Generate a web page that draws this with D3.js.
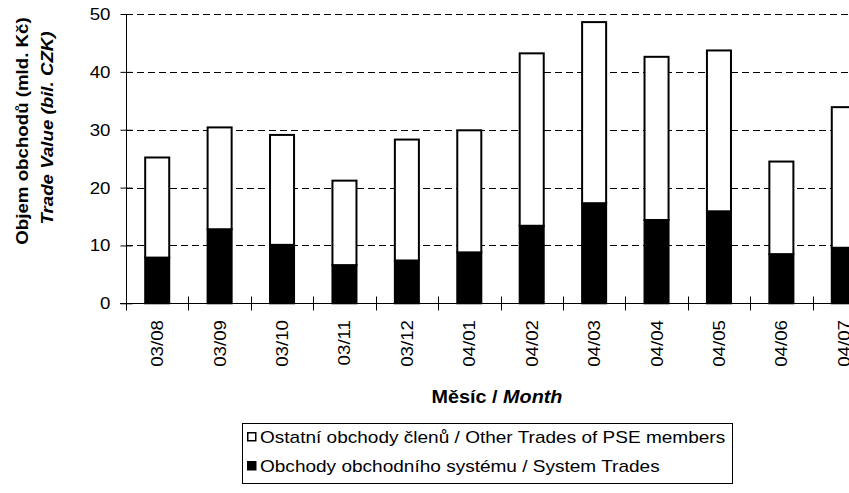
<!DOCTYPE html>
<html>
<head>
<meta charset="utf-8">
<script src="https://cdn.jsdelivr.net/npm/d3@7"></script>
<style>
  body { margin: 0; background: #fff; }
  svg { display: block; overflow: hidden; }
  text { font-family: "Liberation Sans", Arial, sans-serif; fill: #000; }
</style>
</head>
<body>
<svg id="chart-id"></svg>
<script>

const width = 849;
const height = 493;

// data (mld. Kc)
const months = ["03/08", "03/09", "03/10", "03/11", "03/12", "04/01",
                "04/02", "04/03", "04/04", "04/05", "04/06", "04/07"];
const systemTrades = [7.9, 12.8, 10.1, 6.6, 7.4, 8.8, 13.4, 17.3, 14.4, 15.9, 8.5, 9.6];
const otherTrades = [17.3, 17.6, 19.0, 14.6, 20.9, 21.1, 29.8, 31.3, 28.2, 27.8, 16.0, 24.3];
const yTicks = [0, 10, 20, 30, 40, 50];
const legendLabels = ["Ostatní obchody členů / Other Trades of PSE members",
                      "Obchody obchodního systému / System Trades"];

// plot area runs past the right edge of the window, like the original
const margin = {top: 14, left: 126};
const plotW = 749;
const plotH = 289.3;
const stretch = 1.1;

let svg = d3.select("#chart-id")
            .attr("width", width)
            .attr("height", height);

let x = d3.scaleBand()
          .domain(months)
          .range([margin.left, margin.left + plotW])
          .paddingInner(0.615)
          .paddingOuter(0.3075);

let y = d3.scaleLinear()
          .domain([0, 50])
          .range([margin.top + plotH, margin.top]);

// dashed gridlines
svg.append("g")
   .selectAll("line")
   .data(yTicks.filter(d => d > 0))
   .enter()
   .append("line")
   .attr("x1", margin.left)
   .attr("x2", margin.left + plotW)
   .attr("y1", d => Math.round(y(d)) + 0.5)
   .attr("y2", d => Math.round(y(d)) + 0.5)
   .style("stroke", "#000")
   .style("stroke-width", 1)
   .style("stroke-dasharray", "7,4");

// stacked bars: system trades at the bottom, other trades on top
let rows = months.map((m, i) => ({month: m, system: systemTrades[i], other: otherTrades[i]}));
let stack = d3.stack().keys(["system", "other"]);
let series = stack(rows);
let fills = {system: "#000", other: "#fff"};

svg.append("g")
   .selectAll("g")
   .data(series)
   .enter()
   .append("g")
   .attr("fill", d => fills[d.key])
   .selectAll("rect")
   .data(d => d)
   .enter()
   .append("rect")
   .attr("x", d => x(d.data.month))
   .attr("y", d => y(d[1]))
   .attr("width", x.bandwidth())
   .attr("height", d => y(d[0]) - y(d[1]))
   .style("stroke", "#000")
   .style("stroke-width", 2);

// y axis
let yAxis = d3.axisLeft(y)
              .tickValues(yTicks)
              .tickSize(6)
              .tickPadding(10)
              .tickFormat(d3.format("d"));

let gy = svg.append("g")
            .attr("transform", "translate(" + (margin.left + 0.5) + ",0)")
            .call(yAxis);
gy.select(".domain").attr("d", "M0," + y(50) + "V" + y(0)).style("stroke-width", 1);
gy.selectAll(".tick line").attr("x2", -6).attr("x1", 6);
gy.selectAll(".tick text")
  .style("font-size", "17px")
  .style("font-family", "Liberation Sans, Arial, sans-serif")
  .attr("transform", function() {
      let tx = +d3.select(this).attr("x");
      return "translate(" + tx + ",0) scale(" + stretch + ",1) translate(" + (-tx) + ",0)";
  });

// x axis line with crossing ticks at the category edges
let xAxisY = Math.round(y(0)) + 0.5;
svg.append("line")
   .attr("x1", margin.left - 6)
   .attr("x2", margin.left + plotW)
   .attr("y1", xAxisY)
   .attr("y2", xAxisY)
   .style("stroke", "#000");

svg.append("g")
   .selectAll("line")
   .data(d3.range(months.length + 1))
   .enter()
   .append("line")
   .attr("x1", i => Math.round(margin.left + i * x.step()) + 0.5)
   .attr("x2", i => Math.round(margin.left + i * x.step()) + 0.5)
   .attr("y1", xAxisY - 7)
   .attr("y2", xAxisY + 7)
   .style("stroke", "#000");

// rotated month labels
svg.append("g")
   .selectAll("text")
   .data(months)
   .enter()
   .append("text")
   .attr("transform", d => "translate(" + (x(d) + x.bandwidth() / 2) + "," + 320 + ") rotate(-90) scale(" + stretch + ",1)")
   .attr("dy", "0.35em")
   .attr("text-anchor", "end")
   .style("font-size", "17px")
   .text(d => d);

// x axis title
let xt = svg.append("text")
            .attr("transform", "translate(" + 497 + "," + 403 + ") scale(" + stretch + ",1)")
            .attr("text-anchor", "middle")
            .style("font-size", "18px")
            .style("font-weight", "bold");
xt.append("tspan").text("Měsíc / ");
xt.append("tspan").style("font-style", "italic").text("Month");

// y axis title, two lines
svg.append("text")
   .attr("transform", "translate(" + 28 + "," + 131 + ") rotate(-90) scale(" + stretch + ",1)")
   .attr("text-anchor", "middle")
   .style("font-size", "17px")
   .style("font-weight", "bold")
   .text("Objem obchodů (mld. Kč)");

svg.append("text")
   .attr("transform", "translate(" + 53 + "," + 128 + ") rotate(-90) scale(" + stretch + ",1)")
   .attr("text-anchor", "middle")
   .style("font-size", "17px")
   .style("font-weight", "bold")
   .style("font-style", "italic")
   .text("Trade Value (bil. CZK)");

// legend
let legend = svg.append("g");
legend.append("rect")
      .attr("x", 242.5)
      .attr("y", 423.5)
      .attr("width", 490)
      .attr("height", 60)
      .style("fill", "#fff")
      .style("stroke", "#000")
      .style("stroke-width", 1);

let legendFill = ["#fff", "#000"];
let items = legend.selectAll("g.item")
                  .data(legendLabels)
                  .enter()
                  .append("g")
                  .attr("class", "item")
                  .attr("transform", (d, i) => "translate(247," + (437 + i * 29) + ")");

items.append("rect")
     .attr("x", 0.75)
     .attr("y", -4.25)
     .attr("width", 8)
     .attr("height", 8)
     .style("fill", (d, i) => legendFill[i])
     .style("stroke", "#000")
     .style("stroke-width", 1.5);

items.append("text")
     .attr("transform", "translate(13,0) scale(" + 1.12 + ",1)")
     .attr("dy", "0.35em")
     .style("font-size", "17px")
     .text(d => d);

</script>
</body>
</html>
